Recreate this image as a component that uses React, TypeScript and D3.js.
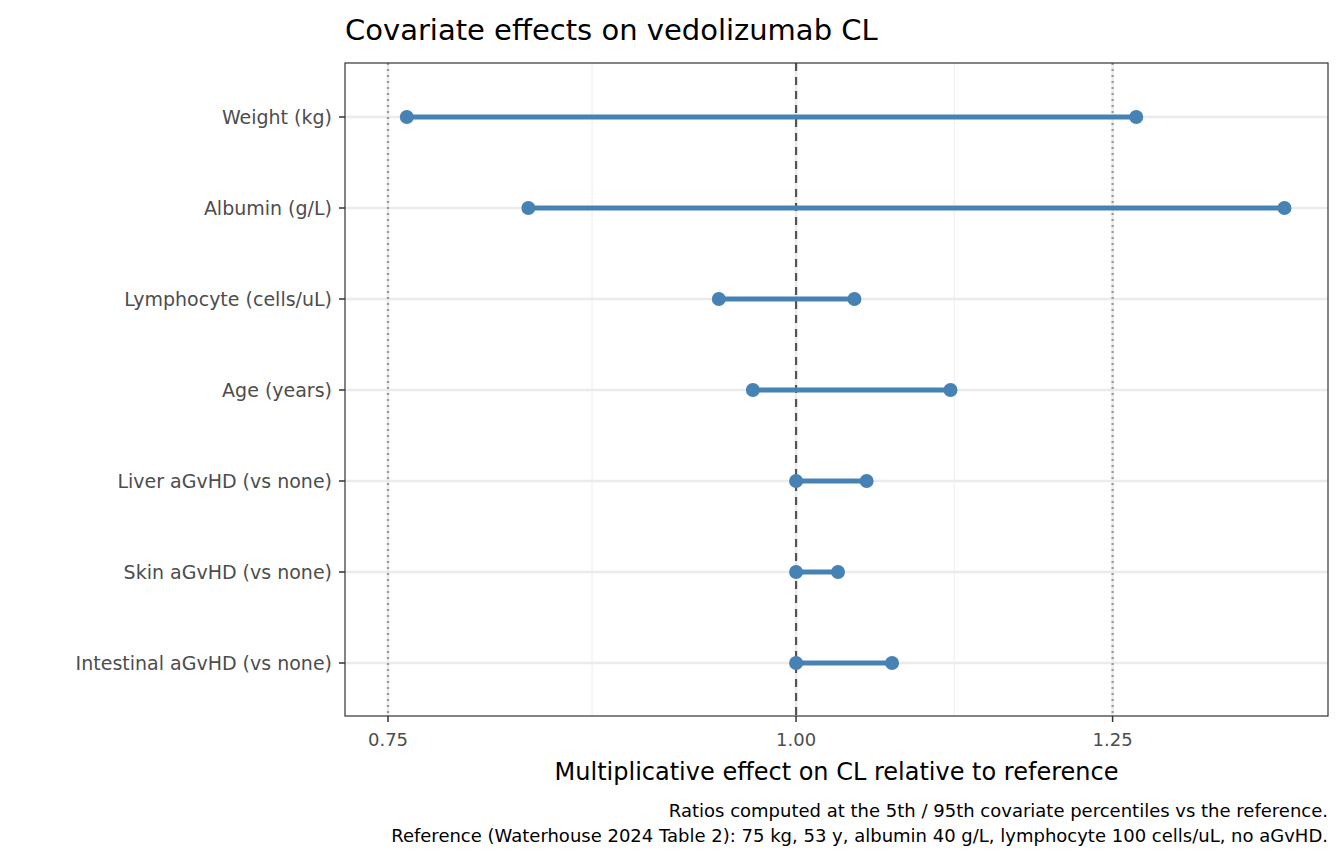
import { useEffect } from 'react';
import * as d3 from 'd3';

const covariates = [
  'Weight (kg)',
  'Albumin (g/L)',
  'Lymphocyte (cells/uL)',
  'Age (years)',
  'Liver aGvHD (vs none)',
  'Skin aGvHD (vs none)',
  'Intestinal aGvHD (vs none)',
];
const lowValues = [0.76, 0.828, 0.947, 0.97, 1.0, 1.0, 1.0];
const highValues = [1.271, 1.411, 1.042, 1.115, 1.051, 1.03, 1.07];
const tickValues = [0.75, 1.0, 1.25];
const minorTicks = [Math.sqrt(0.75), Math.sqrt(1.25)];

export default function App() {
  useEffect(() => {
    document.body.style.margin = '0';
  }, []);

  const width = 1344;
  const height = 864;
  const left = 345, right = 1328, top = 63, bottom = 716;
  const font = "'DejaVu Sans', sans-serif";

  const x = d3.scaleLog().domain([0.7276, 1.455]).range([left, right]);
  const y = d3.scalePoint<string>().domain(covariates).range([117, 663]);
  const color = '#4682b4';

  return (
    <svg width={width} height={height} style={{ display: 'block', fontFamily: font }}>
      <rect width={width} height={height} fill="#fff" />
      <text x={345} y={40} fontSize={29} fill="#000">Covariate effects on vedolizumab CL</text>
      {minorTicks.map(t => (
        <line key={t} x1={x(t)} x2={x(t)} y1={top} y2={bottom} stroke="#f0f0f0" strokeWidth={1.2} />
      ))}
      {tickValues.map(t => (
        <line key={t} x1={x(t)} x2={x(t)} y1={top} y2={bottom} stroke="#ebebeb" strokeWidth={2.5} />
      ))}
      {covariates.map(c => (
        <line key={c} x1={left} x2={right} y1={y(c)} y2={y(c)} stroke="#ebebeb" strokeWidth={2.5} />
      ))}
      <line x1={x(0.75)} x2={x(0.75)} y1={top} y2={bottom} stroke="#999" strokeWidth={2.2} strokeDasharray="2,4" />
      <line x1={x(1.25)} x2={x(1.25)} y1={top} y2={bottom} stroke="#999" strokeWidth={2.2} strokeDasharray="2,4" />
      <line x1={x(1)} x2={x(1)} y1={top} y2={bottom} stroke="#555" strokeWidth={2.2} strokeDasharray="8,6" />
      {covariates.map((c, i) => (
        <g key={c}>
          <line x1={x(lowValues[i])} x2={x(highValues[i])} y1={y(c)} y2={y(c)} stroke={color} strokeWidth={5} />
          <circle cx={x(lowValues[i])} cy={y(c)} r={7} fill={color} />
          <circle cx={x(highValues[i])} cy={y(c)} r={7} fill={color} />
          <line x1={left - 6} x2={left} y1={y(c)} y2={y(c)} stroke="#333" strokeWidth={1.5} />
          <text x={left - 13} y={y(c)} dy="0.35em" textAnchor="end" fontSize={19} fill="#4d4d4d">{c}</text>
        </g>
      ))}
      <rect x={left} y={top} width={right - left} height={bottom - top} fill="none" stroke="#333" strokeWidth={1.2} />
      {tickValues.map(t => (
        <g key={t}>
          <line x1={x(t)} x2={x(t)} y1={bottom} y2={bottom + 6} stroke="#333" strokeWidth={1.5} />
          <text x={x(t)} y={bottom + 30} textAnchor="middle" fontSize={18} fill="#4d4d4d">{t.toFixed(2)}</text>
        </g>
      ))}
      <text x={(left + right) / 2} y={780} textAnchor="middle" fontSize={24} fill="#000">
        Multiplicative effect on CL relative to reference
      </text>
      <text x={right} y={817} textAnchor="end" fontSize={18} fill="#000">
        Ratios computed at the 5th / 95th covariate percentiles vs the reference.
      </text>
      <text x={right} y={842} textAnchor="end" fontSize={18} fill="#000">
        Reference (Waterhouse 2024 Table 2): 75 kg, 53 y, albumin 40 g/L, lymphocyte 100 cells/uL, no aGvHD.
      </text>
    </svg>
  );
}
